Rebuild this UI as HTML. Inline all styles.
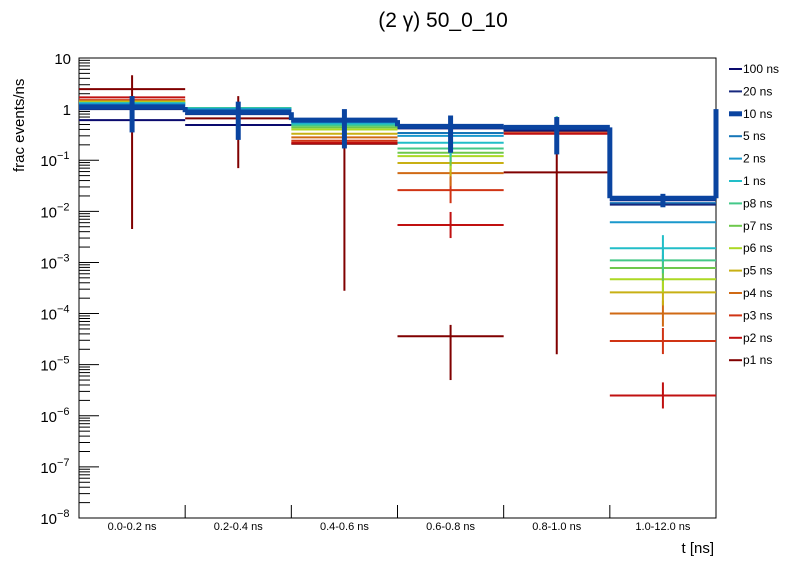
<!DOCTYPE html>
<html><head><meta charset="utf-8"><style>
body{margin:0;background:#fff;font-family:"Liberation Sans",sans-serif}
svg text{font-family:"Liberation Sans",sans-serif}
</style></head><body>
<svg id="c" width="796" height="572" xmlns="http://www.w3.org/2000/svg">
<text x="443" y="27" font-size="21" text-anchor="middle">(2 γ) 50_0_10</text>
<text x="714" y="553" font-size="15" text-anchor="end">t [ns]</text>
<text transform="translate(24,172) rotate(-90)" font-size="15" text-anchor="start" dx="-0">frac events/ns</text>
<g id="plot"></g>
</svg>
<script>
const categories=["0.0-0.2 ns","0.2-0.4 ns","0.4-0.6 ns","0.6-0.8 ns","0.8-1.0 ns","1.0-12.0 ns"];
const seriesNames=["100 ns","20 ns","10 ns","5 ns","2 ns","1 ns","p8 ns","p7 ns","p6 ns","p5 ns","p4 ns","p3 ns","p2 ns","p1 ns"];
const seriesColors=["#0a0a6e","#16287e","#0a44a0","#1676b8","#1a98cc","#22bec8","#44c888","#6ec84c","#acd824","#c8b014","#d06a14","#d03414","#c01010","#800000"];
const v100=[0.61,0.49,0.6,0.42,0.4,0.0165];
const v20=[1.0,0.8,0.58,0.44,0.38,0.0135];
const v10=[1.1,0.87,0.61,0.46,0.44,0.018];
const v5=[1.2,0.95,0.57,0.34,0.42,0.0145];
const v2=[1.25,1.0,0.55,0.3,0.41,0.0061];
const v1=[1.3,1.02,0.52,0.22,0.4,0.0019];
const vp8=[1.3,1.05,0.48,0.17,0.4,0.0011];
const vp7=[1.32,1.05,0.44,0.14,0.4,0.00078];
const vp6=[1.35,1.05,0.4,0.12,0.4,0.00047];
const vp5=[1.4,1.05,0.33,0.088,0.39,0.00026];
const vp4=[1.45,1.03,0.28,0.056,0.38,0.0001];
const vp3=[1.5,1.0,0.24,0.026,0.36,0.000029];
const vp2=[1.7,0.97,0.22,0.0054,0.33,0.0000025];
const vp1=[2.46,0.66,0.21,0.000036,0.058,0];
const err10Lo=[0.35,0.25,0.17,0.14,0.13,0.012];
const err10Hi=[1.8,1.4,1.0,0.75,0.7,0.022];
const errP1Lo=[0.0045,0.07,0.00028,0.000005,0.000016,0];
const errP1Hi=[4.6,1.8,0.6,0.00006,0.3,0];
const yTickLabels=["10","1","10","10","10","10","10","10","10","10"];
const yTickExp=["","","−1","−2","−3","−4","−5","−6","−7","−8"];
const allSeries=[v100,v20,v10,v5,v2,v1,vp8,vp7,vp6,vp5,vp4,vp3,vp2,vp1];
const X0=79,X1=716,Y0=58,Y1=518;
const NS="http://www.w3.org/2000/svg";
const g=document.getElementById('plot');
function yS(v){return Y0+(1-Math.log10(v))*(Y1-Y0)/9;}
function xS(i){return X0+i*(X1-X0)/categories.length;}
function mk(t,a,p){const e=document.createElementNS(NS,t);for(const k in a)e.setAttribute(k,a[k]);(p||g).appendChild(e);return e;}
// frame
let fr=mk('rect',{x:X0,y:Y0,width:X1-X0,height:Y1-Y0,fill:'none',stroke:'#000','stroke-width':1});


// y ticks
for(let d=0;d<=9;d++){
 const y=Y0+d*(Y1-Y0)/9;
 let t=mk('line',{x1:X0,x2:X0+20,y1:y,y2:y,stroke:'#000'});
 
 
 let tx=mk('text',{x:X0-8-(yTickExp[d]?14:0),y:y+6,'font-size':15,'text-anchor':'end'});
 tx.textContent=yTickLabels[d];
 
 
 if(yTickExp[d]){let e=mk('text',{x:X0-22,y:y-1,'font-size':11});e.textContent=yTickExp[d];
 
 }
 if(d<9)for(let m=2;m<=9;m++){const yy=y+(1-Math.log10(m))*(Y1-Y0)/9-(Y1-Y0)/9+ (Y1-Y0)/9; const ym=Y0+(d+1-Math.log10(m))*(Y1-Y0)/9;
  let mt=mk('line',{x1:X0,x2:X0+11,y1:ym,y2:ym,stroke:'#000'});
  
  }
}
// x ticks & labels
for(let i=0;i<categories.length;i++){
 if(i>0){let t=mk('line',{x1:xS(i),x2:xS(i),y1:Y1,y2:Y1-13,stroke:'#000'});
 
 }
 let tx=mk('text',{x:(xS(i)+xS(i+1))/2,y:530,'font-size':11,'text-anchor':'middle'});
 tx.textContent=categories[i];
 
 
}
// series (draw order: back to front, 10 ns last)
const order=[13,12,11,10,9,8,7,6,5,4,3,1,0,2];
for(const s of order){
 const vals=allSeries[s],col=seriesColors[s],w=s===2?5:2;
 const grp=mk('g',{});
 
 
 let prev=null;
 for(let i=0;i<vals.length;i++){
  if(!(vals[i]>0)){prev=null;continue;}
  const y=yS(vals[i]);
  let l=mk('line',{x1:xS(i),x2:xS(i+1),y1:y,y2:y,stroke:col,'stroke-width':w},grp);
  
  
  if(s===2&&prev!==null){mk('line',{x1:xS(i),x2:xS(i),y1:prev,y2:y,stroke:col,'stroke-width':w},grp);}
  prev=y;
  const cx=(xS(i)+xS(i+1))/2;
  if(s===2){let e=mk('line',{x1:cx,x2:cx,y1:yS(err10Hi[i]),y2:yS(err10Lo[i]),stroke:col,'stroke-width':5},grp);
   
   }
  else if(s===13&&errP1Hi[i]>0){let e=mk('line',{x1:cx,x2:cx,y1:yS(errP1Hi[i]),y2:yS(errP1Lo[i]),stroke:col,'stroke-width':2},grp);
   
   }
  else if(i>=3&&s>=5){let e=mk('line',{x1:cx,x2:cx,y1:yS(vals[i]*1.8),y2:yS(vals[i]/1.8),stroke:col,'stroke-width':2},grp);
   
   }
 }
 if(s===2){mk('line',{x1:X1,x2:X1,y1:prev,y2:yS(1),stroke:col,'stroke-width':5},grp);}
}
// legend
for(let s=0;s<seriesNames.length;s++){
 const y=69+s*22.4;
 let l=mk('line',{x1:729,x2:742,y1:y,y2:y,stroke:seriesColors[s],'stroke-width':s===2?5:2});
 
 
 let t=mk('text',{x:743,y:y+4,'font-size':12});
 t.textContent=seriesNames[s];
 
 
}
</script>
</body></html>
